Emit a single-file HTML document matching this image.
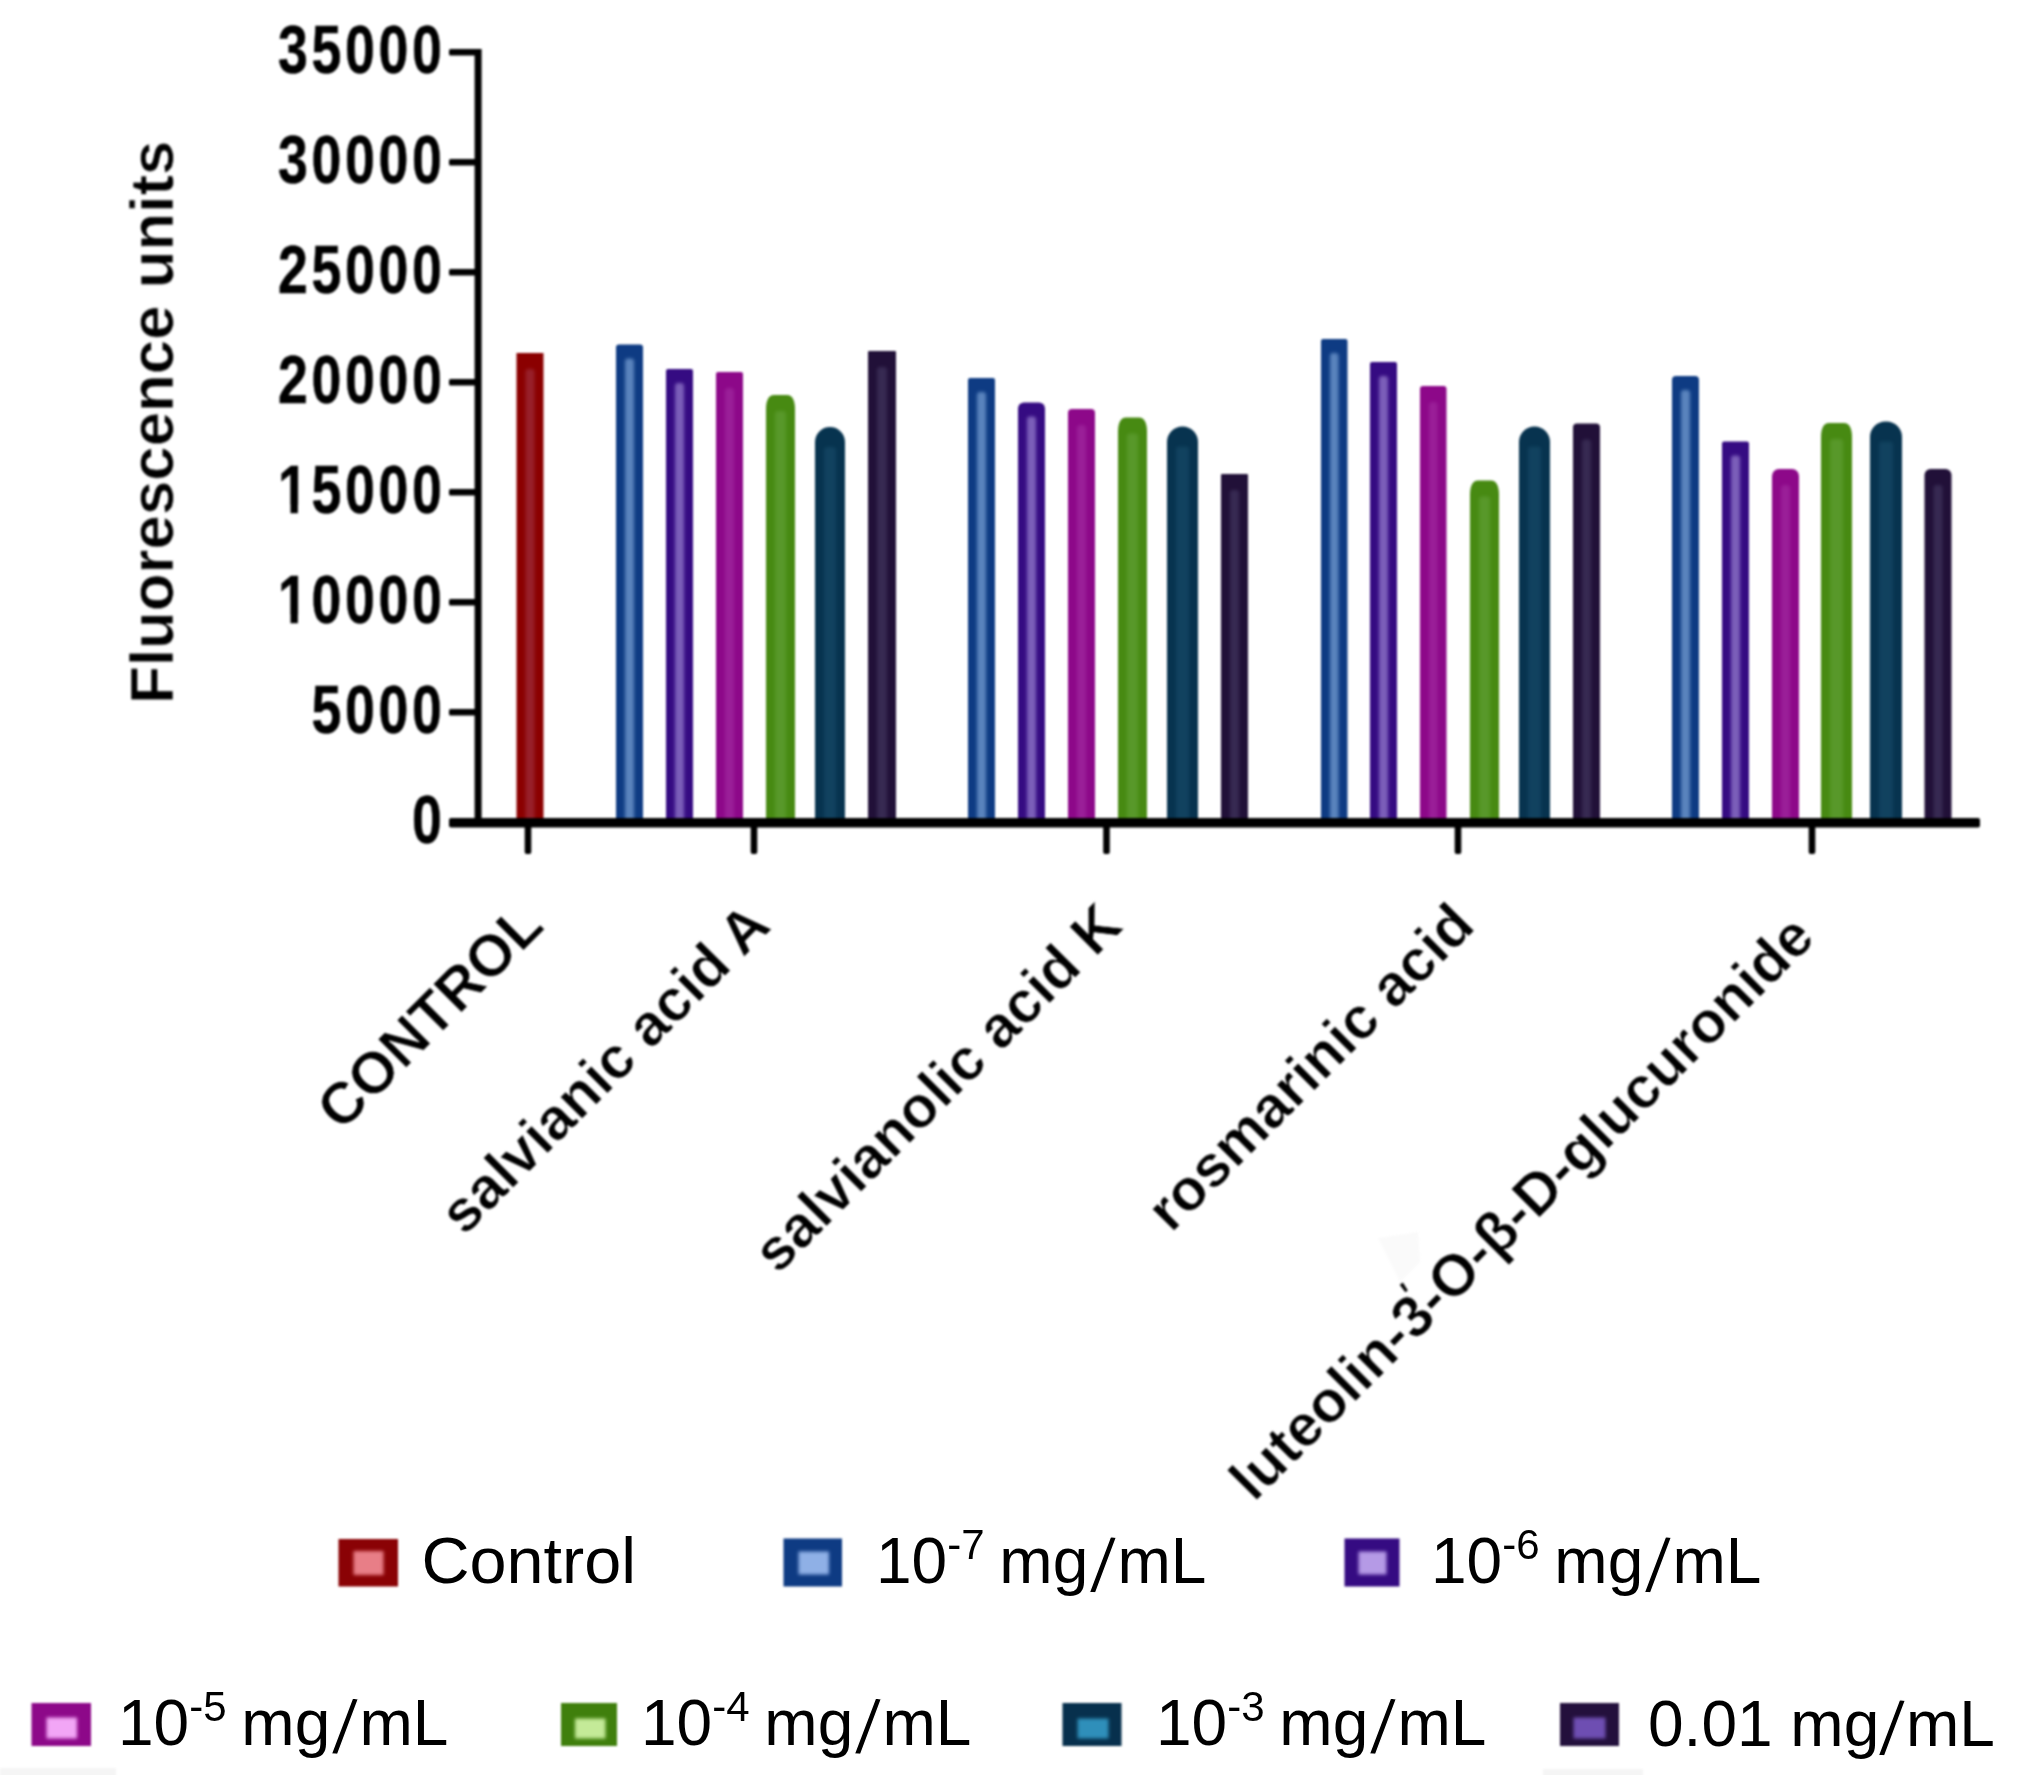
<!DOCTYPE html>
<html lang="en"><head><meta charset="utf-8"><title>Fluorescence units chart</title>
<style>
html,body{margin:0;padding:0;background:#fff;}
body{width:2022px;height:1775px;overflow:hidden;}
svg{display:block;}
text{font-family:"Liberation Sans",Arial,Helvetica,sans-serif;fill:#000;}
.ct{font-size:58.5px;font-weight:bold;stroke:#fff;stroke-width:0.7px;}
.tk{font-size:68px;font-weight:bold;letter-spacing:4.6px;stroke:#000;stroke-width:0.5px;}
.lg{font-size:64px;}
.sup{font-size:42px;}
.sl{font-size:78px;stroke:#fff;stroke-width:1.2px;}
</style></head><body>
<svg width="2022" height="1775" viewBox="0 0 2022 1775">
<defs>
<filter id="b1" color-interpolation-filters="sRGB" x="-5%" y="-5%" width="110%" height="110%"><feGaussianBlur stdDeviation="1.3"/></filter>
<filter id="b2" color-interpolation-filters="sRGB" x="-5%" y="-5%" width="110%" height="110%"><feGaussianBlur stdDeviation="0.9"/></filter>
<filter id="b3" color-interpolation-filters="sRGB" x="-5%" y="-5%" width="110%" height="110%"><feGaussianBlur stdDeviation="1.0"/></filter>
<filter id="b4" color-interpolation-filters="sRGB" x="-5%" y="-5%" width="110%" height="110%"><feGaussianBlur stdDeviation="0.6"/></filter>
<filter id="b5" color-interpolation-filters="sRGB" x="-5%" y="-5%" width="110%" height="110%"><feGaussianBlur stdDeviation="1.2"/></filter>
<filter id="b6" color-interpolation-filters="sRGB" x="-5%" y="-5%" width="110%" height="110%"><feGaussianBlur stdDeviation="1.4"/></filter>
<clipPath id="c1" clipPathUnits="userSpaceOnUse"><path clip-rule="evenodd" d="M-260 -70H10V25H-260Z M-212 -8.5H-196.2V3H-212Z M-186.85 -8.5H-172V3H-186.85Z"/></clipPath>
</defs>
<rect width="2022" height="1775" fill="#fff"/>
<g filter="url(#b1)" fill="#f5f5f5">
<rect x="0" y="1768" width="116" height="9"/>
<rect x="1543" y="1769" width="100" height="8"/>
<path d="M1378 1238L1418 1232L1420 1262L1400 1282Z" fill="#fafafa"/>
</g>
<g filter="url(#b1)">
<path d="M516.5 353.0H543.5V823.0H516.5Z" fill="#8b0000"/>
<path d="M616.0 823.0V347.5A3.0 3.0 0 0 1 619.0 344.5H640.0A3.0 3.0 0 0 1 643.0 347.5V823.0Z" fill="#0e3b83"/>
<path d="M666.0 823.0V371.0A2.0 2.0 0 0 1 668.0 369.0H691.0A2.0 2.0 0 0 1 693.0 371.0V823.0Z" fill="#350b82"/>
<path d="M716.0 823.0V374.0A2.0 2.0 0 0 1 718.0 372.0H741.0A2.0 2.0 0 0 1 743.0 374.0V823.0Z" fill="#8d0889"/>
<path d="M766.0 823.0V409.0C766.0 401.0 768.5 395.0 774.0 395.0H787.0C792.5 395.0 795.0 401.0 795.0 409.0V823.0Z" fill="#478a12"/>
<path d="M815.0 823.0V442.0A15.0 15.0 0 0 1 830.0 427.0H830.0A15.0 15.0 0 0 1 845.0 442.0V823.0Z" fill="#07334f"/>
<path d="M868.0 823.0V352.0A1.0 1.0 0 0 1 869.0 351.0H895.0A1.0 1.0 0 0 1 896.0 352.0V823.0Z" fill="#211038"/>
<path d="M968.0 823.0V380.0A2.0 2.0 0 0 1 970.0 378.0H993.0A2.0 2.0 0 0 1 995.0 380.0V823.0Z" fill="#0e3b83"/>
<path d="M1018.0 823.0V408.5A6.0 6.0 0 0 1 1024.0 402.5H1039.0A6.0 6.0 0 0 1 1045.0 408.5V823.0Z" fill="#350b82"/>
<path d="M1068.0 823.0V413.0A4.0 4.0 0 0 1 1072.0 409.0H1091.0A4.0 4.0 0 0 1 1095.0 413.0V823.0Z" fill="#8d0889"/>
<path d="M1118.0 823.0V431.5C1118.0 423.5 1120.5 417.5 1126.0 417.5H1139.0C1144.5 417.5 1147.0 423.5 1147.0 431.5V823.0Z" fill="#478a12"/>
<path d="M1167.0 823.0V442.0A15.5 15.5 0 0 1 1182.5 426.5H1182.5A15.5 15.5 0 0 1 1198.0 442.0V823.0Z" fill="#07334f"/>
<path d="M1221.0 823.0V475.0A1.0 1.0 0 0 1 1222.0 474.0H1247.0A1.0 1.0 0 0 1 1248.0 475.0V823.0Z" fill="#211038"/>
<path d="M1321.0 823.0V341.0A2.0 2.0 0 0 1 1323.0 339.0H1345.5A2.0 2.0 0 0 1 1347.5 341.0V823.0Z" fill="#0e3b83"/>
<path d="M1370.0 823.0V364.0A2.0 2.0 0 0 1 1372.0 362.0H1395.0A2.0 2.0 0 0 1 1397.0 364.0V823.0Z" fill="#350b82"/>
<path d="M1420.0 823.0V389.0A3.0 3.0 0 0 1 1423.0 386.0H1443.5A3.0 3.0 0 0 1 1446.5 389.0V823.0Z" fill="#8d0889"/>
<path d="M1470.0 823.0V494.5C1470.0 486.5 1472.5 480.5 1478.0 480.5H1491.0C1496.5 480.5 1499.0 486.5 1499.0 494.5V823.0Z" fill="#478a12"/>
<path d="M1519.0 823.0V442.0A15.5 15.5 0 0 1 1534.5 426.5H1534.5A15.5 15.5 0 0 1 1550.0 442.0V823.0Z" fill="#07334f"/>
<path d="M1573.0 823.0V427.5A4.0 4.0 0 0 1 1577.0 423.5H1596.0A4.0 4.0 0 0 1 1600.0 427.5V823.0Z" fill="#211038"/>
<path d="M1672.0 823.0V380.0A4.0 4.0 0 0 1 1676.0 376.0H1695.0A4.0 4.0 0 0 1 1699.0 380.0V823.0Z" fill="#0e3b83"/>
<path d="M1722.0 823.0V443.5A2.0 2.0 0 0 1 1724.0 441.5H1747.0A2.0 2.0 0 0 1 1749.0 443.5V823.0Z" fill="#350b82"/>
<path d="M1772.0 823.0V476.0A7.0 7.0 0 0 1 1779.0 469.0H1792.0A7.0 7.0 0 0 1 1799.0 476.0V823.0Z" fill="#8d0889"/>
<path d="M1821.0 823.0V437.0C1821.0 429.0 1823.5 423.0 1829.0 423.0H1844.0C1849.5 423.0 1852.0 429.0 1852.0 437.0V823.0Z" fill="#478a12"/>
<path d="M1870.0 823.0V437.0A15.5 15.5 0 0 1 1885.5 421.5H1886.5A15.5 15.5 0 0 1 1902.0 437.0V823.0Z" fill="#07334f"/>
<path d="M1924.5 823.0V475.0A6.0 6.0 0 0 1 1930.5 469.0H1945.5A6.0 6.0 0 0 1 1951.5 475.0V823.0Z" fill="#211038"/>
<g filter="url(#b6)">
<path d="M525.5 823.0V372.0A3.0 3.0 0 0 1 528.5 369.0H531.5A3.0 3.0 0 0 1 534.5 372.0V823.0Z" fill="#98202a"/>
<path d="M625.0 823.0V361.5A3.0 3.0 0 0 1 628.0 358.5H631.0A3.0 3.0 0 0 1 634.0 361.5V823.0Z" fill="#5a84bd"/>
<path d="M675.0 823.0V386.0A3.0 3.0 0 0 1 678.0 383.0H681.0A3.0 3.0 0 0 1 684.0 386.0V823.0Z" fill="#7c5fb9"/>
<path d="M725.0 823.0V391.0A3.0 3.0 0 0 1 728.0 388.0H731.0A3.0 3.0 0 0 1 734.0 391.0V823.0Z" fill="#9a1f98"/>
<path d="M775.0 823.0V414.0A3.0 3.0 0 0 1 778.0 411.0H783.0A3.0 3.0 0 0 1 786.0 414.0V823.0Z" fill="#58982a"/>
<path d="M824.0 823.0V450.0A3.0 3.0 0 0 1 827.0 447.0H833.0A3.0 3.0 0 0 1 836.0 450.0V823.0Z" fill="#11425f"/>
<path d="M877.0 823.0V370.0A3.0 3.0 0 0 1 880.0 367.0H884.0A3.0 3.0 0 0 1 887.0 370.0V823.0Z" fill="#372a52"/>
<path d="M977.0 823.0V395.0A3.0 3.0 0 0 1 980.0 392.0H983.0A3.0 3.0 0 0 1 986.0 395.0V823.0Z" fill="#5a84bd"/>
<path d="M1027.0 823.0V419.5A3.0 3.0 0 0 1 1030.0 416.5H1033.0A3.0 3.0 0 0 1 1036.0 419.5V823.0Z" fill="#7c5fb9"/>
<path d="M1077.0 823.0V428.0A3.0 3.0 0 0 1 1080.0 425.0H1083.0A3.0 3.0 0 0 1 1086.0 428.0V823.0Z" fill="#9a1f98"/>
<path d="M1127.0 823.0V436.5A3.0 3.0 0 0 1 1130.0 433.5H1135.0A3.0 3.0 0 0 1 1138.0 436.5V823.0Z" fill="#58982a"/>
<path d="M1176.0 823.0V449.5A3.0 3.0 0 0 1 1179.0 446.5H1186.0A3.0 3.0 0 0 1 1189.0 449.5V823.0Z" fill="#11425f"/>
<path d="M1230.0 823.0V493.0A3.0 3.0 0 0 1 1233.0 490.0H1236.0A3.0 3.0 0 0 1 1239.0 493.0V823.0Z" fill="#372a52"/>
<path d="M1330.0 823.0V356.0A3.0 3.0 0 0 1 1333.0 353.0H1335.5A3.0 3.0 0 0 1 1338.5 356.0V823.0Z" fill="#5a84bd"/>
<path d="M1379.0 823.0V379.0A3.0 3.0 0 0 1 1382.0 376.0H1385.0A3.0 3.0 0 0 1 1388.0 379.0V823.0Z" fill="#7c5fb9"/>
<path d="M1429.0 823.0V405.0A3.0 3.0 0 0 1 1432.0 402.0H1434.5A3.0 3.0 0 0 1 1437.5 405.0V823.0Z" fill="#9a1f98"/>
<path d="M1479.0 823.0V499.5A3.0 3.0 0 0 1 1482.0 496.5H1487.0A3.0 3.0 0 0 1 1490.0 499.5V823.0Z" fill="#58982a"/>
<path d="M1528.0 823.0V449.5A3.0 3.0 0 0 1 1531.0 446.5H1538.0A3.0 3.0 0 0 1 1541.0 449.5V823.0Z" fill="#11425f"/>
<path d="M1582.0 823.0V442.5A3.0 3.0 0 0 1 1585.0 439.5H1588.0A3.0 3.0 0 0 1 1591.0 442.5V823.0Z" fill="#372a52"/>
<path d="M1681.0 823.0V393.0A3.0 3.0 0 0 1 1684.0 390.0H1687.0A3.0 3.0 0 0 1 1690.0 393.0V823.0Z" fill="#5a84bd"/>
<path d="M1731.0 823.0V458.5A3.0 3.0 0 0 1 1734.0 455.5H1737.0A3.0 3.0 0 0 1 1740.0 458.5V823.0Z" fill="#7c5fb9"/>
<path d="M1781.0 823.0V488.0A3.0 3.0 0 0 1 1784.0 485.0H1787.0A3.0 3.0 0 0 1 1790.0 488.0V823.0Z" fill="#9a1f98"/>
<path d="M1830.0 823.0V442.0A3.0 3.0 0 0 1 1833.0 439.0H1840.0A3.0 3.0 0 0 1 1843.0 442.0V823.0Z" fill="#58982a"/>
<path d="M1879.0 823.0V444.5A3.0 3.0 0 0 1 1882.0 441.5H1890.0A3.0 3.0 0 0 1 1893.0 444.5V823.0Z" fill="#11425f"/>
<path d="M1933.5 823.0V488.0A3.0 3.0 0 0 1 1936.5 485.0H1939.5A3.0 3.0 0 0 1 1942.5 488.0V823.0Z" fill="#372a52"/>
</g>
</g>
<g filter="url(#b2)" fill="#000">
<rect x="474.6" y="49" width="7" height="775"/>
<rect x="449" y="818" width="1531" height="9.5" rx="2"/>
<rect x="449" y="49.0" width="30" height="6.6" rx="1.5"/>
<rect x="449" y="159.0" width="30" height="6.6" rx="1.5"/>
<rect x="449" y="269.0" width="30" height="6.6" rx="1.5"/>
<rect x="449" y="379.0" width="30" height="6.6" rx="1.5"/>
<rect x="449" y="489.0" width="30" height="6.6" rx="1.5"/>
<rect x="449" y="599.0" width="30" height="6.6" rx="1.5"/>
<rect x="449" y="709.0" width="30" height="6.6" rx="1.5"/>
<rect x="524.7" y="822" width="6.6" height="32" rx="2"/>
<rect x="750.7" y="822" width="6.6" height="32" rx="2"/>
<rect x="1103.2" y="822" width="6.6" height="32" rx="2"/>
<rect x="1454.7" y="822" width="6.6" height="32" rx="2"/>
<rect x="1808.7" y="822" width="6.6" height="32" rx="2"/>
</g>
<g filter="url(#b3)">
<text class="tk" text-anchor="end" transform="translate(445.5 73.3) scale(0.79 1)">35000</text>
<text class="tk" text-anchor="end" transform="translate(445.5 183.3) scale(0.79 1)">30000</text>
<text class="tk" text-anchor="end" transform="translate(445.5 293.3) scale(0.79 1)">25000</text>
<text class="tk" text-anchor="end" transform="translate(445.5 403.3) scale(0.79 1)">20000</text>
<text class="tk" clip-path="url(#c1)" text-anchor="end" transform="translate(445.5 513.3) scale(0.79 1)">15000</text>
<text class="tk" clip-path="url(#c1)" text-anchor="end" transform="translate(445.5 623.3) scale(0.79 1)">10000</text>
<text class="tk" text-anchor="end" transform="translate(445.5 733.3) scale(0.79 1)">5000</text>
<text class="tk" text-anchor="end" transform="translate(445.5 843.3) scale(0.79 1)">0</text>
<text class="ct" style="font-size:61.8px" text-anchor="middle" transform="translate(173 422.3) rotate(-90)">Fluorescence units</text>
<text class="ct" text-anchor="end" transform="translate(546 928) rotate(-45)">CONTROL</text>
<text class="ct" text-anchor="end" transform="translate(773 928) rotate(-45)">salvianic acid A</text>
<text class="ct" text-anchor="end" transform="translate(1125 928) rotate(-45)">salvianolic acid K</text>
<text class="ct" text-anchor="end" transform="translate(1477 928) rotate(-45)">rosmarinic acid</text>
<text class="ct" text-anchor="end" transform="translate(1817 940) rotate(-45)">luteolin-3-O-β-D-glucuronide</text>
<text style="font-size:44px" transform="translate(1403.7 1287) rotate(-34) translate(-4.2 26)">'</text>
</g>
<g filter="url(#b5)">
<rect x="338.5" y="1539.0" width="59.5" height="47.5" fill="#8a0205"/>
<rect x="783.5" y="1538.5" width="58.5" height="48.0" fill="#0e3b83"/>
<rect x="1344.5" y="1538.5" width="55.0" height="48.0" fill="#350b82"/>
<rect x="31.5" y="1703.0" width="59.5" height="43.0" fill="#8d0889"/>
<rect x="561.0" y="1703.0" width="56.0" height="43.0" fill="#3f7f0c"/>
<rect x="1062.5" y="1703.0" width="59.0" height="43.0" fill="#07304d"/>
<rect x="1560.0" y="1703.0" width="59.0" height="43.0" fill="#23103c"/>
<g filter="url(#b6)">
<rect x="353.5" y="1551.0" width="30.0" height="24.0" fill="#e87e87"/>
<rect x="798.5" y="1551.5" width="30.5" height="23.0" fill="#8fb0e6"/>
<rect x="1358.5" y="1551.5" width="28.0" height="23.0" fill="#b59ae6"/>
<rect x="46.5" y="1717.5" width="30.5" height="21.0" fill="#f2a6f6"/>
<rect x="575.0" y="1718.5" width="30.5" height="20.0" fill="#c4ea98"/>
<rect x="1077.5" y="1718.5" width="31.0" height="20.0" fill="#2f8fba"/>
<rect x="1573.5" y="1717.5" width="32.0" height="21.0" fill="#6e4eb2"/>
</g>
</g>
<g filter="url(#b4)">
<text class="lg" transform="translate(421.5 1583) scale(1.04 1)">Control</text>
<text class="lg" x="876.0" y="1583.0">10<tspan class="sup" dy="-24">-7</tspan><tspan dy="24" dx="-3"> mg</tspan><tspan class="sl" x="1089.5" dy="8.5" rotate="5.5">/</tspan><tspan x="1117.5" dy="-8.5">mL</tspan></text>
<text class="lg" x="1431.0" y="1583.0">10<tspan class="sup" dy="-24">-6</tspan><tspan dy="24" dx="-3"> mg</tspan><tspan class="sl" x="1644.5" dy="8.5" rotate="5.5">/</tspan><tspan x="1672.5" dy="-8.5">mL</tspan></text>
<text class="lg" x="118.0" y="1744.5">10<tspan class="sup" dy="-24">-5</tspan><tspan dy="24" dx="-3"> mg</tspan><tspan class="sl" x="331.5" dy="8.5" rotate="5.5">/</tspan><tspan x="359.5" dy="-8.5">mL</tspan></text>
<text class="lg" x="641.0" y="1744.5">10<tspan class="sup" dy="-24">-4</tspan><tspan dy="24" dx="-3"> mg</tspan><tspan class="sl" x="854.5" dy="8.5" rotate="5.5">/</tspan><tspan x="882.5" dy="-8.5">mL</tspan></text>
<text class="lg" x="1156.0" y="1744.5">10<tspan class="sup" dy="-24">-3</tspan><tspan dy="24" dx="-3"> mg</tspan><tspan class="sl" x="1369.5" dy="8.5" rotate="5.5">/</tspan><tspan x="1397.5" dy="-8.5">mL</tspan></text>
<text class="lg" x="1648" y="1746">0.01 mg<tspan class="sl" x="1878.5" dy="8.5" rotate="5.5">/</tspan><tspan x="1906" dy="-8.5">mL</tspan></text>
</g>
</svg>
</body></html>
